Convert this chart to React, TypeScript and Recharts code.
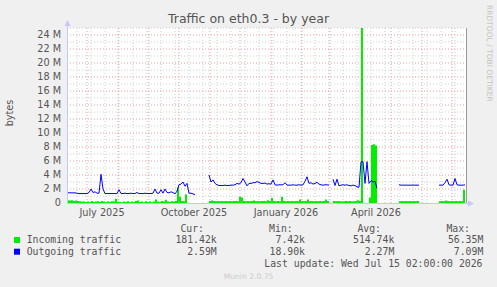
import React from "react";
import {
    ComposedChart,
    Area,
    Line,
    XAxis,
    YAxis,
    CartesianGrid,
} from "recharts";

// samples every 2 days, day 0 = 11 June 2025 (values in millions of bytes)
const incoming = [
    0.4, 0.35, 0.4, 0.3, 0.35, 0.3, 0.25, 0.2, 0.2, 0.15,
    0.2, 0.1, 0.3, 0.15, 0.2, 0.25, 0.15, 0.3, 0.2, 0.1,
    0.2, 0.15, 0.25, 0.2, 0.6, 0.2, 0.15, 0.1, 0.2, 0.15,
    0.25, 0.1, 0.2, 0.15, 0.3, 0.35, 0.15, 0.2, 0.1, 0.25,
    0.15, 0.2, 0.1, 0.2, 0.5, 0.2, 0.15, 0.3, 0.2, 0.45,
    0.2, 0.15, 0.25, 0.2, 0.3, 2.2, 0.9, 0.3, 0.25, 1.2,
    0.2, null, null, null, null, null, null, null, null, null,
    null, 0.3, 0.35, 0.3, 0.25, 0.3, 0.25, 0.3, 0.25, 0.3,
    0.25, 0.3, 0.25, 0.3, 0.3, 0.25, 0.9, 0.8, 0.3, 0.25,
    0.3, 0.25, 0.3, 0.35, 0.25, 0.3, 0.25, 0.3, 0.3, 0.25,
    0.4, 0.3, 0.7, 0.3, 0.25, 0.3, 0.25, 0.9, 0.3, 0.25,
    0.3, 0.25, 0.3, 0.25, 0.3, 0.25, 0.5, 0.3, 0.25, 0.3,
    0.5, 0.25, 0.3, 0.25, 0.3, 0.25, 0.3, 0.25, 0.3, 0.5,
    0.3, 0.25, null, 0.3, 0.25, 0.3, 0.25, 0.2, 0.25, 0.3,
    0.25, 0.3, 0.2, 0.25, 0.3, 0.4, 0.3, 56.35, 0, 0,
    0, 0.8, 8.3, 8.4, 8.2, 0.1, null, null, null, null,
    null, null, null, null, null, null, 0.25, 0.3, 0.25, 0.3,
    0.25, 0.3, 0.25, 0.3, 0.25, 0.3, 0.25, null, null, null,
    null, null, null, null, null, null, 0.25, 0.3, 0.25, 0.35,
    0.3, 0.25, 0.3, 0.25, 0.3, 0.25, 0.3, 0.25, 1.9, 0.18,
];

const outgoing = [
    1.5, 1.45, 1.45, 1.45, 1.45, 1.4, 1.35, 1.35, 1.35, 1.35,
    1.35, 1.5, 2.0, 1.5, 1.6, 1.4, 1.4, 4.1, 2.0, 1.35,
    1.35, 1.35, 1.35, 1.35, 1.35, 1.35, 1.9, 1.35, 1.35, 1.4,
    1.35, 1.35, 1.4, 1.35, 1.35, 1.5, 1.35, 1.35, 1.35, 1.4,
    1.35, 1.35, 1.35, 1.4, 2.0, 1.4, 1.4, 1.9, 1.4, 2.0,
    1.5, 1.45, 1.6, 1.5, 1.3, 1.7, 2.6, 2.7, 3.0, 2.4,
    2.8, 1.4, 1.4, 1.3, 1.2, null, null, null, null, null,
    null, 4.0, 3.0, 3.3, 2.8, 2.6, 2.5, 2.5, 2.5, 2.55,
    2.5, 2.5, 2.55, 2.55, 2.6, 2.8, 2.7, 2.9, 3.5, 3.0,
    2.45, 2.8, 2.8, 2.9, 2.9, 3.05, 2.95, 2.8, 2.8, 2.85,
    2.7, 2.75, 2.7, 3.3, 2.6, 2.55, 2.6, 2.6, 2.6, 2.9,
    2.55, 2.55, 2.55, 2.6, 2.55, 2.55, 2.6, 2.55, 2.6, 3.1,
    3.75, 2.8, 2.9, 2.7, 2.8, 2.95, 2.7, 2.6, 2.55, 2.6,
    2.6, 2.55, null, 3.4, 2.5, 3.4, 2.45, 2.55, 2.6, 2.55,
    2.6, 2.5, 2.45, 2.55, 2.5, 2.3, 2.25, 5.9, 5.9, 2.8,
    5.9, 2.8, 3.2, 3.0, 3.1, 2.1, null, null, null, null,
    null, null, null, null, null, null, 2.6, 2.55, 2.55, 2.55,
    2.55, 2.55, 2.55, 2.55, 2.55, 2.55, 2.55, null, null, null,
    null, null, null, null, null, null, 2.55, 2.55, 2.55, 2.9,
    3.4, 2.6, 2.55, 2.55, 3.5, 2.6, 2.55, 2.55, 2.55, 2.6,
];

const days = incoming.map((_, i) => i * 2);

const monthStarts = [20, 51, 82, 112, 143, 173, 204, 235, 263, 294, 324, 355, 385];
const minorDays = [10, 24, 38, 52, 66, 80, 94, 108, 122, 136, 150, 164, 178, 192, 206, 220, 234, 248, 262, 276, 290, 304, 318, 332, 346, 360, 374, 388];
const labelDays = [35, 127, 219, 309];
const labelNames = ["July 2025", "October 2025", "January 2026", "April 2026"];

const yTicks = [0, 2, 4, 6, 8, 10, 12, 14, 16, 18, 20, 22, 24];
const yMinor = [1, 3, 5, 7, 9, 11, 13, 15, 17, 19, 21, 23, 25];

const seriesNames = ["Incoming traffic", "Outgoing traffic"];
const seriesColors = ["#00ee00", "#0000ff"];
const curVals = ["181.42k", "2.59M"];
const minVals = ["7.42k", "18.90k"];
const avgVals = ["514.74k", "2.27M"];
const maxVals = ["56.35M", "7.09M"];

const rows = days.map((d, i) => ({ day: d, incoming: incoming[i], outgoing: outgoing[i] }));

const W = 497;
const H = 287;
const PL = 67;
const PR = 466;
const PT = 28;
const PB = 203;
const X_MAX = 399;
const Y_MAX = 25;
const SANS = "DejaVu Sans";
const MONO = "DejaVu Sans Mono";
const TXT = "#555";
const AXIS = "#c8c8f8";

// grid positions through the axis scale when available
const xPos = (xAxis: any, d: number) =>
    typeof xAxis?.scale === "function" ? xAxis.scale(d) : PL + (d / X_MAX) * (PR - PL);
const yPos = (yAxis: any, v: number) =>
    typeof yAxis?.scale === "function" ? yAxis.scale(v) : PB - (v / Y_MAX) * (PB - PT);

export default function App() {
    return (
        <div style={{ position: "absolute", left: 0, top: 0, width: W, height: H, background: "#f0f0f0" }}>
            <ComposedChart
                width={W}
                height={H}
                data={rows}
                margin={{ top: PT, right: W - PR, bottom: 0, left: 0 }}
            >
                <CartesianGrid
                    fill="#ffffff"
                    stroke="#cfcfcf"
                    strokeDasharray="1 2"
                    horizontalCoordinatesGenerator={({ yAxis }: any) => yMinor.map((v) => yPos(yAxis, v))}
                    verticalCoordinatesGenerator={({ xAxis }: any) => minorDays.map((d) => xPos(xAxis, d))}
                />
                <CartesianGrid
                    stroke="#e8a0a0"
                    strokeDasharray="1 2"
                    horizontalCoordinatesGenerator={({ yAxis }: any) => yTicks.slice(1).map((v) => yPos(yAxis, v))}
                    verticalCoordinatesGenerator={({ xAxis }: any) => monthStarts.map((d) => xPos(xAxis, d))}
                />
                <XAxis
                    type="number"
                    dataKey="day"
                    domain={[0, X_MAX]}
                    ticks={labelDays}
                    tickFormatter={(v: number) => labelNames[labelDays.indexOf(v)] ?? ""}
                    height={H - PB}
                    axisLine={false}
                    tickLine={false}
                    tickSize={0}
                    tickMargin={6}
                    tick={{ fill: TXT, fontSize: 9.7, fontFamily: SANS }}
                    interval={0}
                />
                <YAxis
                    type="number"
                    domain={[0, Y_MAX]}
                    allowDataOverflow
                    ticks={yTicks}
                    tickFormatter={(v: number) => (v === 0 ? "0" : `${v} M`)}
                    width={PL}
                    axisLine={false}
                    tickLine={false}
                    tickSize={0}
                    tickMargin={6}
                    tick={{ fill: TXT, fontSize: 9.7, fontFamily: SANS }}
                    interval={0}
                />
                <Area
                    type="stepAfter"
                    dataKey="incoming"
                    fill={seriesColors[0]}
                    fillOpacity={1}
                    stroke="none"
                    isAnimationActive={false}
                />
                <Line
                    type="linear"
                    dataKey="outgoing"
                    stroke={seriesColors[1]}
                    strokeWidth={1}
                    dot={false}
                    isAnimationActive={false}
                />
            </ComposedChart>
            <svg
                width={W}
                height={H}
                style={{ position: "absolute", left: 0, top: 0, pointerEvents: "none" }}
            >
                <text x={248.5} y={23} textAnchor="middle" fontFamily={SANS} fontSize={12.5} fill={TXT}>
                    Traffic on eth0.3 - by year
                </text>
                <text transform="translate(13,113) rotate(-90)" textAnchor="middle" fontFamily={SANS} fontSize={9.7} fill={TXT}>
                    bytes
                </text>
                <text transform="translate(487,5) rotate(90)" fontFamily={SANS} fontSize={7.5} fill="#c4c4c4">
                    RRDTOOL / TOBI OETIKER
                </text>
                {/* axes with arrows */}
                <line x1={PL + 0.5} y1={PB} x2={PL + 0.5} y2={PT - 4} stroke={AXIS} />
                <polygon points={`${PL - 2.5},${PT - 2} ${PL + 3.5},${PT - 2} ${PL + 0.5},${PT - 8}`} fill={AXIS} />
                <line x1={PL} y1={PB + 0.5} x2={PR + 4} y2={PB + 0.5} stroke={AXIS} />
                <polygon points={`${PR + 2},${PB - 2.5} ${PR + 2},${PB + 3.5} ${PR + 8},${PB + 0.5}`} fill={AXIS} />
                <line x1={PR + 0.5} y1={PT} x2={PR + 0.5} y2={PB} stroke="#9a9a9a" />
                {/* legend */}
                <g fontFamily={MONO} fontSize={9.8} fill={TXT}>
                    <text x={204} y={231.5} textAnchor="end">Cur:</text>
                    <text x={292.7} y={231.5} textAnchor="end">Min:</text>
                    <text x={381} y={231.5} textAnchor="end">Avg:</text>
                    <text x={470} y={231.5} textAnchor="end">Max:</text>
                    {seriesNames.map((name, i) => {
                        const y = 243.3 + i * 11.7;
                        return (
                            <g key={name}>
                                <rect x={14} y={y - 6.3} width={6} height={6} fill={seriesColors[i]} />
                                <text x={26.7} y={y}>{name}</text>
                                <text x={216.7} y={y} textAnchor="end">{curVals[i]}</text>
                                <text x={305} y={y} textAnchor="end">{minVals[i]}</text>
                                <text x={394.3} y={y} textAnchor="end">{avgVals[i]}</text>
                                <text x={483.3} y={y} textAnchor="end">{maxVals[i]}</text>
                            </g>
                        );
                    })}
                    <text x={482.5} y={266.6} textAnchor="end">Last update: Wed Jul 15 02:00:00 2026</text>
                </g>
                <text x={248.5} y={279} textAnchor="middle" fontFamily={SANS} fontSize={7.6} fill="#cccccc">
                    Munin 2.0.75
                </text>
            </svg>
        </div>
    );
}
